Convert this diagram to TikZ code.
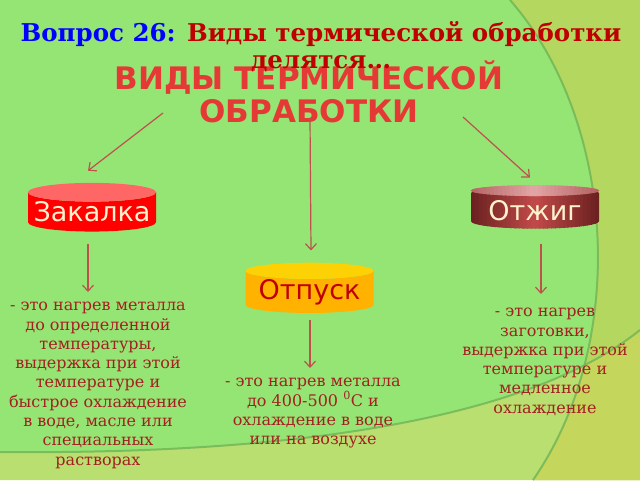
\documentclass[tikz,border=0pt]{standalone}
\usepackage{fontspec}
\setmainfont{DejaVu Serif}
\setsansfont{DejaVu Sans}
\usetikzlibrary{shapes.geometric,arrows.meta,positioning,calc}
\definecolor{bggreen}{HTML}{95E575}
\definecolor{bgolive}{HTML}{B4D760}
\definecolor{bglight}{HTML}{B8DF70}
\definecolor{bgboth}{HTML}{C5D65C}
\definecolor{arcline}{HTML}{6FB455}
\definecolor{arrowred}{HTML}{C0504D}
\definecolor{descred}{HTML}{A32020}
\definecolor{darkred}{HTML}{C00000}
\definecolor{headred}{HTML}{E53935}
\definecolor{cream}{HTML}{FFF2CC}
\definecolor{otzhedge}{HTML}{6A2020}
\definecolor{otzhmid}{HTML}{C24A4A}
\definecolor{otzhrim}{HTML}{B56262}
\definecolor{otzhtop}{HTML}{E2A6A6}
\tikzstyle{drum} = [cylinder, shape border rotate=90, aspect=0.16,
    minimum width=128pt, minimum height=38pt, inner sep=0pt,
    font=\sffamily\fontsize{27}{30}\selectfont]
\tikzstyle{line} = [draw=arrowred, line width=1.2pt, -{Straight Barb[length=6pt,width=11pt]}]
\tikzstyle{desc} = [anchor=north, align=center, inner sep=0pt, text=descred,
    font=\fontsize{16}{19.3}\selectfont]

\begin{document}
\begin{tikzpicture}[x=1pt, y=-1pt]
    \useasboundingbox (0,0) rectangle (640,480);
    % Background
    \fill[bggreen] (0,0) rectangle (640,480);
    \fill[bgolive] (510,0) .. controls (615,120) and (630,340) .. (533,480) -- (640,480) -- (640,0) -- cycle;
    \fill[bglight] (0,452) .. controls (330,455) and (540,410) .. (640,330) -- (640,480) -- (0,480) -- cycle;
    \begin{scope}
        \clip (510,0) .. controls (615,120) and (630,340) .. (533,480) -- (640,480) -- (640,0) -- cycle;
        \fill[bgboth] (0,452) .. controls (330,455) and (540,410) .. (640,330) -- (640,480) -- (0,480) -- cycle;
    \end{scope}
    \draw[arcline, line width=2pt, opacity=0.8] (510,0) .. controls (615,120) and (630,340) .. (533,480);
    \draw[arcline, line width=2pt, opacity=0.8] (0,452) .. controls (330,455) and (540,410) .. (640,330);

    % Place nodes
    \node [text=headred, font=\sffamily\bfseries\fontsize{31}{33}\selectfont, align=center]
        (head) at (309,92) {ВИДЫ ТЕРМИЧЕСКОЙ\\ОБРАБОТКИ};
    \node [font=\bfseries\fontsize{24.5}{27}\selectfont, align=center, text=darkred]
        (question) at (321,47) {\textcolor{blue}{Вопрос 26:} Виды термической обработки\\делятся…};
    \node [drum, cylinder uses custom fill, cylinder body fill=red,
        cylinder end fill=red!60!white, text=cream]
        (zak) at (92,212) {Закалка};
    \node [drum, cylinder uses custom fill, cylinder body fill=orange!60!yellow,
        cylinder end fill=yellow!70!orange, text=darkred]
        (otp) at (309.5,292) {Отпуск};
    % body of the annealing drum: dark at the sides, light in the middle
    \node [drum, text=cream, path picture={
            \foreach \i [evaluate=\i as \p using {100*(1-abs((2*\i+1)/32-1))}] in {0,...,31}
                \fill [otzhmid!\p!otzhedge]
                    ($(path picture bounding box.south west)!{\i/32}!(path picture bounding box.south east)$)
                    rectangle ($(path picture bounding box.north west)!{(\i+1.2)/32}!(path picture bounding box.north east)$);}]
        (otzh) at (535,211) {Отжиг};
    \begin{scope}
        \clip ([yshift=-5.12pt]otzh.top) ellipse (64.3pt and 5.4pt);
        \foreach \i [evaluate=\i as \p using {100*(1-abs((2*\i+1)/32-1))}] in {0,...,31}
            \fill [otzhtop!\p!otzhrim]
                ($(otzh.west)!{\i/32}!(otzh.east) + (-1pt,-30pt)$)
                rectangle ($(otzh.west)!{(\i+1.2)/32}!(otzh.east) + (1pt,30pt)$);
    \end{scope}
    \node [desc] (zakdesc) at (98,302) {- это нагрев металла\\до определенной\\температуры,\\выдержка при этой\\температуре и\\быстрое охлаждение\\в воде, масле или\\специальных\\растворах};
    \node [desc] (otpdesc) at (313,378) {- это нагрев металла\\до 400-500 \textsuperscript{0}С и\\охлаждение в воде\\или на воздухе};
    \node [desc] (otzhdesc) at (545,308) {- это нагрев\\заготовки,\\выдержка при этой\\температуре и\\медленное\\охлаждение};
    \coordinate (h1) at (163,113);
    \coordinate (h2) at (310,118);
    \coordinate (h3) at (463,117);
    % Draw edges
    \path [line] (h1) -- ([xshift=-4pt, yshift=12pt]zak.north);
    \path [line] (h2) -- ([xshift=1.5pt, yshift=12pt]otp.north);
    \path [line] (h3) -- ([xshift=-5pt, yshift=8pt]otzh.north);
    \path [line] ([xshift=-4pt, yshift=-12pt]zak.south) -- ([xshift=-10pt, yshift=10pt]zakdesc.north);
    \path [line] ([xshift=0.5pt, yshift=-7pt]otp.south) -- ([xshift=-3pt, yshift=10pt]otpdesc.north);
    \path [line] ([xshift=6pt, yshift=-15pt]otzh.south) -- ([xshift=-4pt, yshift=14pt]otzhdesc.north);
\end{tikzpicture}
\end{document}
